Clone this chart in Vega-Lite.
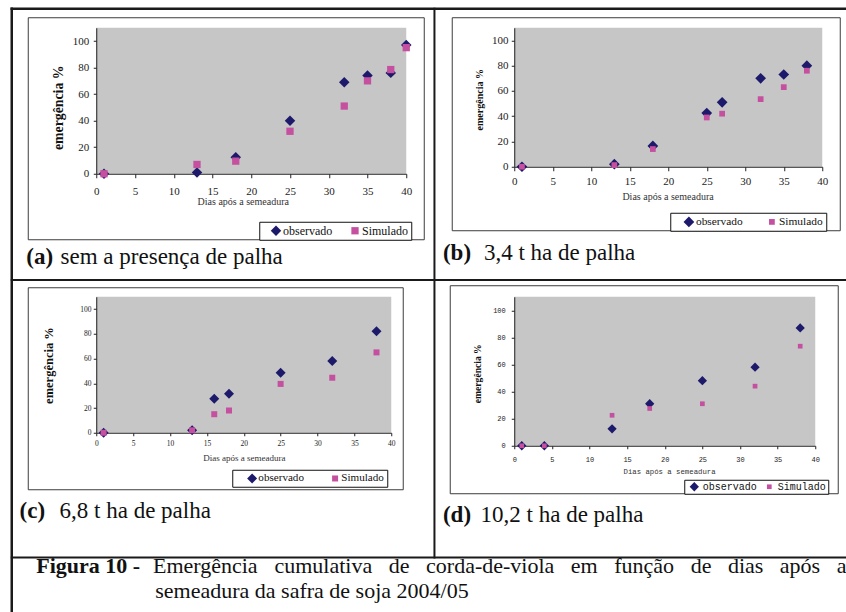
{
  "$schema": "https://vega.github.io/schema/vega-lite/v6.json",
  "background": "white",
  "padding": {"left": 9.25, "top": 6.75, "right": 0, "bottom": 0},
  "config": {
    "font": "Liberation Serif",
    "view": {"fill": "#c6c6c6", "stroke": null},
    "axis": {"grid": false, "labelFlush": false, "labelOverlap": false, "domainColor": "#222", "tickColor": "#222", "labelColor": "#222", "titleColor": "#111"}
  },
  "datasets": {
    "pontos": [
      {"painel": "a", "serie": "observado", "dia": 1, "emergencia": 0},
      {"painel": "a", "serie": "observado", "dia": 13, "emergencia": 1},
      {"painel": "a", "serie": "observado", "dia": 18, "emergencia": 12.5},
      {"painel": "a", "serie": "observado", "dia": 25, "emergencia": 40},
      {"painel": "a", "serie": "observado", "dia": 32, "emergencia": 69},
      {"painel": "a", "serie": "observado", "dia": 35, "emergencia": 74},
      {"painel": "a", "serie": "observado", "dia": 38, "emergencia": 76},
      {"painel": "a", "serie": "observado", "dia": 40, "emergencia": 97},
      {"painel": "a", "serie": "Simulado", "dia": 1, "emergencia": 0},
      {"painel": "a", "serie": "Simulado", "dia": 13, "emergencia": 7},
      {"painel": "a", "serie": "Simulado", "dia": 18, "emergencia": 9.5},
      {"painel": "a", "serie": "Simulado", "dia": 25, "emergencia": 32},
      {"painel": "a", "serie": "Simulado", "dia": 32, "emergencia": 51},
      {"painel": "a", "serie": "Simulado", "dia": 35, "emergencia": 70},
      {"painel": "a", "serie": "Simulado", "dia": 38, "emergencia": 78.5},
      {"painel": "a", "serie": "Simulado", "dia": 40, "emergencia": 95},
      {"painel": "b", "serie": "observado", "dia": 1, "emergencia": 0},
      {"painel": "b", "serie": "observado", "dia": 13, "emergencia": 2},
      {"painel": "b", "serie": "observado", "dia": 18, "emergencia": 16.5},
      {"painel": "b", "serie": "observado", "dia": 25, "emergencia": 42.5},
      {"painel": "b", "serie": "observado", "dia": 27, "emergencia": 51},
      {"painel": "b", "serie": "observado", "dia": 32, "emergencia": 70},
      {"painel": "b", "serie": "observado", "dia": 35, "emergencia": 73},
      {"painel": "b", "serie": "observado", "dia": 38, "emergencia": 80},
      {"painel": "b", "serie": "Simulado", "dia": 1, "emergencia": 0},
      {"painel": "b", "serie": "Simulado", "dia": 13, "emergencia": 1.3},
      {"painel": "b", "serie": "Simulado", "dia": 18, "emergencia": 14},
      {"painel": "b", "serie": "Simulado", "dia": 25, "emergencia": 39},
      {"painel": "b", "serie": "Simulado", "dia": 27, "emergencia": 42},
      {"painel": "b", "serie": "Simulado", "dia": 32, "emergencia": 53.5},
      {"painel": "b", "serie": "Simulado", "dia": 35, "emergencia": 63},
      {"painel": "b", "serie": "Simulado", "dia": 38, "emergencia": 76},
      {"painel": "c", "serie": "observado", "dia": 1, "emergencia": 0},
      {"painel": "c", "serie": "observado", "dia": 13, "emergencia": 2},
      {"painel": "c", "serie": "observado", "dia": 16, "emergencia": 27.5},
      {"painel": "c", "serie": "observado", "dia": 18, "emergencia": 31.5},
      {"painel": "c", "serie": "observado", "dia": 25, "emergencia": 48.5},
      {"painel": "c", "serie": "observado", "dia": 32, "emergencia": 58},
      {"painel": "c", "serie": "observado", "dia": 38, "emergencia": 82},
      {"painel": "c", "serie": "Simulado", "dia": 1, "emergencia": 0},
      {"painel": "c", "serie": "Simulado", "dia": 13, "emergencia": 2},
      {"painel": "c", "serie": "Simulado", "dia": 16, "emergencia": 15},
      {"painel": "c", "serie": "Simulado", "dia": 18, "emergencia": 18},
      {"painel": "c", "serie": "Simulado", "dia": 25, "emergencia": 39.5},
      {"painel": "c", "serie": "Simulado", "dia": 32, "emergencia": 44.5},
      {"painel": "c", "serie": "Simulado", "dia": 38, "emergencia": 65},
      {"painel": "d", "serie": "observado", "dia": 1, "emergencia": 0},
      {"painel": "d", "serie": "observado", "dia": 4, "emergencia": 0},
      {"painel": "d", "serie": "observado", "dia": 13, "emergencia": 12.5},
      {"painel": "d", "serie": "observado", "dia": 18, "emergencia": 31},
      {"painel": "d", "serie": "observado", "dia": 25, "emergencia": 48},
      {"painel": "d", "serie": "observado", "dia": 32, "emergencia": 58},
      {"painel": "d", "serie": "observado", "dia": 38, "emergencia": 87},
      {"painel": "d", "serie": "Simulado", "dia": 1, "emergencia": 0},
      {"painel": "d", "serie": "Simulado", "dia": 4, "emergencia": 0},
      {"painel": "d", "serie": "Simulado", "dia": 13, "emergencia": 22.5},
      {"painel": "d", "serie": "Simulado", "dia": 18, "emergencia": 27.5},
      {"painel": "d", "serie": "Simulado", "dia": 25, "emergencia": 31},
      {"painel": "d", "serie": "Simulado", "dia": 32, "emergencia": 44},
      {"painel": "d", "serie": "Simulado", "dia": 38, "emergencia": 73.5}
    ]
  },
  "columns": 2,
  "spacing": {"row": 123, "column": 108},
  "bounds": "flush",
  "align": "each",
  "resolve": {
    "scale": {"color": "independent", "shape": "independent", "size": "independent"},
    "legend": {"color": "independent", "shape": "independent", "size": "independent"}
  },
  "concat": [
    {
      "width": 310,
      "height": 146,
      "resolve": {"axis": {"x": "independent", "y": "independent"}},
      "layer": [
        {
          "data": {"name": "pontos"},
          "transform": [{"filter": "datum.painel == 'a'"}],
          "mark": {"type": "point", "filled": true, "opacity": 1},
          "encoding": {
            "x": {
              "field": "dia", "type": "quantitative",
              "scale": {"domain": [0, 40], "nice": false, "zero": false},
              "axis": {"orient": "bottom", "values": [0, 5, 10, 15, 20, 25, 30, 35, 40], "labelOverlap": false, "labelFlush": false, "title": "Dias após a semeadura", "titleX": 146.5, "titleY": 28, "titleAlign": "center", "titleBaseline": "middle", "titleFontSize": 10, "titleFontWeight": "normal", "titleColor": "#333", "labelFontSize": 11, "labelBaseline": "middle", "labelPadding": 13.7, "tickSize": 4}
            },
            "y": {
              "field": "emergencia", "type": "quantitative",
              "scale": {"domain": [0, 110], "nice": false, "zero": false},
              "axis": {"orient": "left", "values": [0, 20, 40, 60, 80, 100], "labelOverlap": false, "labelFlush": false, "title": "emergência %", "titleX": -38, "titleY": 79.5, "titleAlign": "center", "titleBaseline": "middle", "titleFontSize": 13.8, "titleFontWeight": "bold", "labelFontSize": 11, "labelPadding": 4.5, "tickSize": 3}
            },
            "color": {"field": "serie", "type": "nominal", "scale": {"domain": ["observado", "Simulado"], "range": ["#1d1a6b", "#c4509f"]},
              "legend": {"orient": "none", "legendX": 163, "legendY": 194, "direction": "horizontal", "title": null, "padding": 3, "labelFontSize": 12, "labelColor": "#111", "labelOffset": 1, "symbolOffset": 7.75, "columnPadding": 8, "strokeColor": "#111", "fillColor": "white", "symbolStrokeWidth": 0}},
            "shape": {"field": "serie", "type": "nominal", "scale": {"domain": ["observado", "Simulado"], "range": ["diamond", "square"]},
              "legend": {"orient": "none", "legendX": 163, "legendY": 194, "direction": "horizontal", "title": null, "padding": 3, "labelFontSize": 12, "labelColor": "#111", "labelOffset": 1, "symbolOffset": 7.75, "columnPadding": 8, "strokeColor": "#111", "fillColor": "white", "symbolStrokeWidth": 0}},
            "size": {"field": "serie", "type": "nominal", "scale": {"type": "ordinal", "domain": ["observado", "Simulado"], "range": [110, 53]},
              "legend": {"orient": "none", "legendX": 163, "legendY": 194, "direction": "horizontal", "title": null, "padding": 3, "labelFontSize": 12, "labelColor": "#111", "labelOffset": 1, "symbolOffset": 7.75, "columnPadding": 8, "strokeColor": "#111", "fillColor": "white", "symbolStrokeWidth": 0}}
          }
        },
        {
          "data": {"values": [{}]},
          "mark": {"type": "rule", "stroke": "#1a1a1a", "strokeWidth": 2.5, "strokeCap": "square"},
          "encoding": {
            "x": {"datum": -10.903, "type": "quantitative", "scale": {"domain": [0, 40], "nice": false, "zero": false}, "axis": null},
            "y": {"datum": 124.315, "type": "quantitative", "scale": {"domain": [0, 110], "nice": false, "zero": false}, "axis": null},
            "y2": {"datum": -329.247}
          }
        },
        {
          "data": {"values": [{}]},
          "mark": {"type": "rule", "stroke": "#1a1a1a", "strokeWidth": 2.5, "strokeCap": "square"},
          "encoding": {
            "x": {"datum": -10.903, "type": "quantitative", "scale": {"domain": [0, 40], "nice": false, "zero": false}, "axis": null},
            "x2": {"datum": 96.645},
            "y": {"datum": 124.315, "type": "quantitative", "scale": {"domain": [0, 110], "nice": false, "zero": false}, "axis": null}
          }
        },
        {
          "data": {"values": [{}]},
          "mark": {"type": "rule", "stroke": "#1a1a1a", "strokeWidth": 2, "strokeCap": "square"},
          "encoding": {
            "x": {"datum": -10.903, "type": "quantitative", "scale": {"domain": [0, 40], "nice": false, "zero": false}, "axis": null},
            "x2": {"datum": 96.645},
            "y": {"datum": -80.089, "type": "quantitative", "scale": {"domain": [0, 110], "nice": false, "zero": false}, "axis": null}
          }
        },
        {
          "data": {"values": [{}]},
          "mark": {"type": "rule", "stroke": "#1a1a1a", "strokeWidth": 2, "strokeCap": "square"},
          "encoding": {
            "x": {"datum": 43.639, "type": "quantitative", "scale": {"domain": [0, 40], "nice": false, "zero": false}, "axis": null},
            "y": {"datum": 124.315, "type": "quantitative", "scale": {"domain": [0, 110], "nice": false, "zero": false}, "axis": null},
            "y2": {"datum": -289.089}
          }
        },
        {
          "data": {"values": [{}]},
          "mark": {"type": "rule", "stroke": "#1a1a1a", "strokeWidth": 2, "strokeCap": "square"},
          "encoding": {
            "x": {"datum": -10.903, "type": "quantitative", "scale": {"domain": [0, 40], "nice": false, "zero": false}, "axis": null},
            "x2": {"datum": 96.645},
            "y": {"datum": -289.089, "type": "quantitative", "scale": {"domain": [0, 110], "nice": false, "zero": false}, "axis": null}
          }
        },
        {
          "data": {"values": [{}]},
          "mark": {"type": "rect", "fill": null, "stroke": "#3c3c3c", "strokeWidth": 1},
          "encoding": {
            "x": {"datum": -8.774, "type": "quantitative", "scale": {"domain": [0, 40], "nice": false, "zero": false}, "axis": null},
            "x2": {"datum": 42.323},
            "y": {"datum": 117.53, "type": "quantitative", "scale": {"domain": [0, 110], "nice": false, "zero": false}, "axis": null},
            "y2": {"datum": -49.73}
          }
        },
        {
          "data": {"values": [{}]},
          "mark": {"type": "text", "align": "left", "baseline": "alphabetic", "fontSize": 23, "fontWeight": "bold", "color": "#111"},
          "encoding": {
            "x": {"datum": -9.032, "type": "quantitative", "scale": {"domain": [0, 40], "nice": false, "zero": false}, "axis": null},
            "y": {"datum": -68.03, "type": "quantitative", "scale": {"domain": [0, 110], "nice": false, "zero": false}, "axis": null},
            "text": {"value": "(a)"}
          }
        },
        {
          "data": {"values": [{}]},
          "mark": {"type": "text", "align": "left", "baseline": "alphabetic", "fontSize": 23, "color": "#111"},
          "encoding": {
            "x": {"datum": -4.606, "type": "quantitative", "scale": {"domain": [0, 40], "nice": false, "zero": false}, "axis": null},
            "y": {"datum": -68.03, "type": "quantitative", "scale": {"domain": [0, 110], "nice": false, "zero": false}, "axis": null},
            "text": {"value": "sem a presença de palha"}
          }
        }
      ]
    },
    {
      "width": 308,
      "height": 139,
      "resolve": {"axis": {"x": "independent", "y": "independent"}},
      "layer": [
        {
          "data": {"name": "pontos"},
          "transform": [{"filter": "datum.painel == 'b'"}],
          "mark": {"type": "point", "filled": true, "opacity": 1},
          "encoding": {
            "x": {
              "field": "dia", "type": "quantitative",
              "scale": {"domain": [0, 40], "nice": false, "zero": false},
              "axis": {"orient": "bottom", "values": [0, 5, 10, 15, 20, 25, 30, 35, 40], "labelOverlap": false, "labelFlush": false, "title": "Dias após a semeadura", "titleX": 153.3, "titleY": 30, "titleAlign": "center", "titleBaseline": "middle", "titleFontSize": 10, "titleFontWeight": "normal", "titleColor": "#333", "labelFontSize": 11, "labelBaseline": "middle", "labelPadding": 11, "tickSize": 4}
            },
            "y": {
              "field": "emergencia", "type": "quantitative",
              "scale": {"domain": [0, 110], "nice": false, "zero": false},
              "axis": {"orient": "left", "values": [0, 20, 40, 60, 80, 100], "labelOverlap": false, "labelFlush": false, "title": "emergência %", "titleX": -35, "titleY": 71.5, "titleAlign": "center", "titleBaseline": "middle", "titleFontSize": 10, "titleFontWeight": "bold", "labelFontSize": 11, "labelPadding": 3.3, "tickSize": 3}
            },
            "color": {"field": "serie", "type": "nominal", "scale": {"domain": ["observado", "Simulado"], "range": ["#1d1a6b", "#c4509f"]},
              "legend": {"orient": "none", "legendX": 156, "legendY": 185, "direction": "horizontal", "title": null, "padding": 3, "labelFontSize": 11.4, "labelColor": "#111", "labelOffset": 1.35, "symbolOffset": 9.95, "columnPadding": 13, "strokeColor": "#111", "fillColor": "white", "symbolStrokeWidth": 0}},
            "shape": {"field": "serie", "type": "nominal", "scale": {"domain": ["observado", "Simulado"], "range": ["diamond", "square"]},
              "legend": {"orient": "none", "legendX": 156, "legendY": 185, "direction": "horizontal", "title": null, "padding": 3, "labelFontSize": 11.4, "labelColor": "#111", "labelOffset": 1.35, "symbolOffset": 9.95, "columnPadding": 13, "strokeColor": "#111", "fillColor": "white", "symbolStrokeWidth": 0}},
            "size": {"field": "serie", "type": "nominal", "scale": {"type": "ordinal", "domain": ["observado", "Simulado"], "range": [115, 33]},
              "legend": {"orient": "none", "legendX": 156, "legendY": 185, "direction": "horizontal", "title": null, "padding": 3, "labelFontSize": 11.4, "labelColor": "#111", "labelOffset": 1.35, "symbolOffset": 9.95, "columnPadding": 13, "strokeColor": "#111", "fillColor": "white", "symbolStrokeWidth": 0}}
          }
        },
        {
          "data": {"values": [{}]},
          "mark": {"type": "rect", "fill": null, "stroke": "#3c3c3c", "strokeWidth": 1},
          "encoding": {
            "x": {"datum": -8.052, "type": "quantitative", "scale": {"domain": [0, 40], "nice": false, "zero": false}, "axis": null},
            "x2": {"datum": 42.338},
            "y": {"datum": 117.914, "type": "quantitative", "scale": {"domain": [0, 110], "nice": false, "zero": false}, "axis": null},
            "y2": {"datum": -50.647}
          }
        },
        {
          "data": {"values": [{}]},
          "mark": {"type": "text", "align": "left", "baseline": "alphabetic", "fontSize": 23, "fontWeight": "bold", "color": "#111"},
          "encoding": {
            "x": {"datum": -9.26, "type": "quantitative", "scale": {"domain": [0, 40], "nice": false, "zero": false}, "axis": null},
            "y": {"datum": -73.597, "type": "quantitative", "scale": {"domain": [0, 110], "nice": false, "zero": false}, "axis": null},
            "text": {"value": "(b)"}
          }
        },
        {
          "data": {"values": [{}]},
          "mark": {"type": "text", "align": "left", "baseline": "alphabetic", "fontSize": 23, "color": "#111"},
          "encoding": {
            "x": {"datum": -3.935, "type": "quantitative", "scale": {"domain": [0, 40], "nice": false, "zero": false}, "axis": null},
            "y": {"datum": -73.597, "type": "quantitative", "scale": {"domain": [0, 110], "nice": false, "zero": false}, "axis": null},
            "text": {"value": "3,4 t ha de palha"}
          }
        }
      ]
    },
    {
      "width": 295,
      "height": 136,
      "resolve": {"axis": {"x": "independent", "y": "independent"}},
      "layer": [
        {
          "data": {"name": "pontos"},
          "transform": [{"filter": "datum.painel == 'c'"}],
          "mark": {"type": "point", "filled": true, "opacity": 1},
          "encoding": {
            "x": {
              "field": "dia", "type": "quantitative",
              "scale": {"domain": [0, 40], "nice": false, "zero": false},
              "axis": {"orient": "bottom", "values": [0, 5, 10, 15, 20, 25, 30, 35, 40], "labelOverlap": false, "labelFlush": false, "title": "Dias após a semeadura", "titleX": 147.7, "titleY": 24.3, "titleAlign": "center", "titleBaseline": "middle", "titleFontSize": 9, "titleFontWeight": "normal", "titleColor": "#333", "labelFontSize": 7.5, "labelBaseline": "middle", "labelPadding": 7.3, "tickSize": 3}
            },
            "y": {
              "field": "emergencia", "type": "quantitative",
              "scale": {"domain": [0, 110], "nice": false, "zero": false},
              "axis": {"orient": "left", "values": [0, 20, 40, 60, 80, 100], "labelOverlap": false, "labelFlush": false, "title": "emergência %", "titleX": -48, "titleY": 68.3, "titleAlign": "center", "titleBaseline": "middle", "titleFontSize": 12.5, "titleFontWeight": "bold", "labelFontSize": 7.5, "labelPadding": 2.3, "tickSize": 3}
            },
            "color": {"field": "serie", "type": "nominal", "scale": {"domain": ["observado", "Simulado"], "range": ["#1d1a6b", "#c4509f"]},
              "legend": {"orient": "none", "legendX": 136, "legendY": 173, "direction": "horizontal", "title": null, "padding": 3, "labelFontSize": 11.1, "labelColor": "#111", "labelOffset": 0.7, "symbolOffset": 11.3, "columnPadding": 14, "strokeColor": "#111", "fillColor": "white", "symbolStrokeWidth": 0}},
            "shape": {"field": "serie", "type": "nominal", "scale": {"domain": ["observado", "Simulado"], "range": ["diamond", "square"]},
              "legend": {"orient": "none", "legendX": 136, "legendY": 173, "direction": "horizontal", "title": null, "padding": 3, "labelFontSize": 11.1, "labelColor": "#111", "labelOffset": 0.7, "symbolOffset": 11.3, "columnPadding": 14, "strokeColor": "#111", "fillColor": "white", "symbolStrokeWidth": 0}},
            "size": {"field": "serie", "type": "nominal", "scale": {"type": "ordinal", "domain": ["observado", "Simulado"], "range": [100, 36]},
              "legend": {"orient": "none", "legendX": 136, "legendY": 173, "direction": "horizontal", "title": null, "padding": 3, "labelFontSize": 11.1, "labelColor": "#111", "labelOffset": 0.7, "symbolOffset": 11.3, "columnPadding": 14, "strokeColor": "#111", "fillColor": "white", "symbolStrokeWidth": 0}}
          }
        },
        {
          "data": {"values": [{}]},
          "mark": {"type": "rect", "fill": null, "stroke": "#3c3c3c", "strokeWidth": 1},
          "encoding": {
            "x": {"datum": -9.22, "type": "quantitative", "scale": {"domain": [0, 40], "nice": false, "zero": false}, "axis": null},
            "x2": {"datum": 41.627},
            "y": {"datum": 117.279, "type": "quantitative", "scale": {"domain": [0, 110], "nice": false, "zero": false}, "axis": null},
            "y2": {"datum": -46.103}
          }
        },
        {
          "data": {"values": [{}]},
          "mark": {"type": "text", "align": "left", "baseline": "alphabetic", "fontSize": 23, "fontWeight": "bold", "color": "#111"},
          "encoding": {
            "x": {"datum": -10.4, "type": "quantitative", "scale": {"domain": [0, 40], "nice": false, "zero": false}, "axis": null},
            "y": {"datum": -69.316, "type": "quantitative", "scale": {"domain": [0, 110], "nice": false, "zero": false}, "axis": null},
            "text": {"value": "(c)"}
          }
        },
        {
          "data": {"values": [{}]},
          "mark": {"type": "text", "align": "left", "baseline": "alphabetic", "fontSize": 23, "color": "#111"},
          "encoding": {
            "x": {"datum": -4.976, "type": "quantitative", "scale": {"domain": [0, 40], "nice": false, "zero": false}, "axis": null},
            "y": {"datum": -69.316, "type": "quantitative", "scale": {"domain": [0, 110], "nice": false, "zero": false}, "axis": null},
            "text": {"value": "6,8 t ha de palha"}
          }
        },
        {
          "data": {"values": [{}]},
          "mark": {"type": "text", "align": "left", "baseline": "alphabetic", "fontSize": 22, "fontWeight": "bold", "color": "#111"},
          "encoding": {
            "x": {"datum": -8.136, "type": "quantitative", "scale": {"domain": [0, 40], "nice": false, "zero": false}, "axis": null},
            "y": {"datum": -113.235, "type": "quantitative", "scale": {"domain": [0, 110], "nice": false, "zero": false}, "axis": null},
            "text": {"value": "Figura 10 -"}
          }
        },
        {
          "data": {"values": [{}]},
          "mark": {"type": "text", "align": "left", "baseline": "alphabetic", "fontSize": 22, "color": "#111"},
          "encoding": {
            "x": {"datum": 7.688, "type": "quantitative", "scale": {"domain": [0, 40], "nice": false, "zero": false}, "axis": null},
            "y": {"datum": -113.235, "type": "quantitative", "scale": {"domain": [0, 110], "nice": false, "zero": false}, "axis": null},
            "text": {"value": "Emergência"}
          }
        },
        {
          "data": {"values": [{}]},
          "mark": {"type": "text", "align": "left", "baseline": "alphabetic", "fontSize": 22, "color": "#111"},
          "encoding": {
            "x": {"datum": 24.163, "type": "quantitative", "scale": {"domain": [0, 40], "nice": false, "zero": false}, "axis": null},
            "y": {"datum": -113.235, "type": "quantitative", "scale": {"domain": [0, 110], "nice": false, "zero": false}, "axis": null},
            "text": {"value": "cumulativa"}
          }
        },
        {
          "data": {"values": [{}]},
          "mark": {"type": "text", "align": "left", "baseline": "alphabetic", "fontSize": 22, "color": "#111"},
          "encoding": {
            "x": {"datum": 39.661, "type": "quantitative", "scale": {"domain": [0, 40], "nice": false, "zero": false}, "axis": null},
            "y": {"datum": -113.235, "type": "quantitative", "scale": {"domain": [0, 110], "nice": false, "zero": false}, "axis": null},
            "text": {"value": "de"}
          }
        },
        {
          "data": {"values": [{}]},
          "mark": {"type": "text", "align": "left", "baseline": "alphabetic", "fontSize": 22, "color": "#111"},
          "encoding": {
            "x": {"datum": 44.719, "type": "quantitative", "scale": {"domain": [0, 40], "nice": false, "zero": false}, "axis": null},
            "y": {"datum": -113.235, "type": "quantitative", "scale": {"domain": [0, 110], "nice": false, "zero": false}, "axis": null},
            "text": {"value": "corda-de-viola"}
          }
        },
        {
          "data": {"values": [{}]},
          "mark": {"type": "text", "align": "left", "baseline": "alphabetic", "fontSize": 22, "color": "#111"},
          "encoding": {
            "x": {"datum": 64.353, "type": "quantitative", "scale": {"domain": [0, 40], "nice": false, "zero": false}, "axis": null},
            "y": {"datum": -113.235, "type": "quantitative", "scale": {"domain": [0, 110], "nice": false, "zero": false}, "axis": null},
            "text": {"value": "em"}
          }
        },
        {
          "data": {"values": [{}]},
          "mark": {"type": "text", "align": "left", "baseline": "alphabetic", "fontSize": 22, "color": "#111"},
          "encoding": {
            "x": {"datum": 70.237, "type": "quantitative", "scale": {"domain": [0, 40], "nice": false, "zero": false}, "axis": null},
            "y": {"datum": -113.235, "type": "quantitative", "scale": {"domain": [0, 110], "nice": false, "zero": false}, "axis": null},
            "text": {"value": "função"}
          }
        },
        {
          "data": {"values": [{}]},
          "mark": {"type": "text", "align": "left", "baseline": "alphabetic", "fontSize": 22, "color": "#111"},
          "encoding": {
            "x": {"datum": 80.597, "type": "quantitative", "scale": {"domain": [0, 40], "nice": false, "zero": false}, "axis": null},
            "y": {"datum": -113.235, "type": "quantitative", "scale": {"domain": [0, 110], "nice": false, "zero": false}, "axis": null},
            "text": {"value": "de"}
          }
        },
        {
          "data": {"values": [{}]},
          "mark": {"type": "text", "align": "left", "baseline": "alphabetic", "fontSize": 22, "color": "#111"},
          "encoding": {
            "x": {"datum": 85.654, "type": "quantitative", "scale": {"domain": [0, 40], "nice": false, "zero": false}, "axis": null},
            "y": {"datum": -113.235, "type": "quantitative", "scale": {"domain": [0, 110], "nice": false, "zero": false}, "axis": null},
            "text": {"value": "dias"}
          }
        },
        {
          "data": {"values": [{}]},
          "mark": {"type": "text", "align": "left", "baseline": "alphabetic", "fontSize": 22, "color": "#111"},
          "encoding": {
            "x": {"datum": 92.692, "type": "quantitative", "scale": {"domain": [0, 40], "nice": false, "zero": false}, "axis": null},
            "y": {"datum": -113.235, "type": "quantitative", "scale": {"domain": [0, 110], "nice": false, "zero": false}, "axis": null},
            "text": {"value": "após"}
          }
        },
        {
          "data": {"values": [{}]},
          "mark": {"type": "text", "align": "left", "baseline": "alphabetic", "fontSize": 22, "color": "#111"},
          "encoding": {
            "x": {"datum": 100.393, "type": "quantitative", "scale": {"domain": [0, 40], "nice": false, "zero": false}, "axis": null},
            "y": {"datum": -113.235, "type": "quantitative", "scale": {"domain": [0, 110], "nice": false, "zero": false}, "axis": null},
            "text": {"value": "a"}
          }
        },
        {
          "data": {"values": [{}]},
          "mark": {"type": "text", "align": "left", "baseline": "alphabetic", "fontSize": 22, "color": "#111"},
          "encoding": {
            "x": {"datum": 8.0, "type": "quantitative", "scale": {"domain": [0, 40], "nice": false, "zero": false}, "axis": null},
            "y": {"datum": -133.698, "type": "quantitative", "scale": {"domain": [0, 110], "nice": false, "zero": false}, "axis": null},
            "text": {"value": "semeadura da safra de soja 2004/05"}
          }
        }
      ]
    },
    {
      "width": 301,
      "height": 149,
      "resolve": {"axis": {"x": "independent", "y": "independent"}},
      "layer": [
        {
          "data": {"name": "pontos"},
          "transform": [{"filter": "datum.painel == 'd'"}],
          "mark": {"type": "point", "filled": true, "opacity": 1},
          "encoding": {
            "x": {
              "field": "dia", "type": "quantitative",
              "scale": {"domain": [0, 40], "nice": false, "zero": false},
              "axis": {"orient": "bottom", "values": [0, 5, 10, 15, 20, 25, 30, 35, 40], "labelOverlap": false, "labelFlush": false, "title": "Dias após a semeadura", "titleX": 154.8, "titleY": 25.7, "titleAlign": "center", "titleBaseline": "middle", "titleFont": "Liberation Mono", "titleFontSize": 7.3, "titleFontWeight": "normal", "titleColor": "#333", "labelFont": "Liberation Mono", "labelFontSize": 7, "labelBaseline": "middle", "labelPadding": 10.3, "tickSize": 3}
            },
            "y": {
              "field": "emergencia", "type": "quantitative",
              "scale": {"domain": [0, 110], "nice": false, "zero": false},
              "axis": {"orient": "left", "values": [0, 20, 40, 60, 80, 100], "labelOverlap": false, "labelFlush": false, "title": "emergência %", "titleX": -36.3, "titleY": 76.5, "titleAlign": "center", "titleBaseline": "middle", "titleFontSize": 9.6, "titleFontWeight": "bold", "labelFont": "Liberation Mono", "labelFontSize": 7, "labelPadding": 6, "tickSize": 3}
            },
            "color": {"field": "serie", "type": "nominal", "scale": {"domain": ["observado", "Simulado"], "range": ["#1d1a6b", "#c4509f"]},
              "legend": {"orient": "none", "legendX": 170, "legendY": 183, "direction": "horizontal", "title": null, "padding": 2, "labelFont": "Liberation Mono", "labelFontSize": 10, "labelColor": "#111", "labelOffset": 3.35, "symbolOffset": 3.05, "columnPadding": 4, "strokeColor": "#111", "fillColor": "white", "symbolStrokeWidth": 0}},
            "shape": {"field": "serie", "type": "nominal", "scale": {"domain": ["observado", "Simulado"], "range": ["diamond", "square"]},
              "legend": {"orient": "none", "legendX": 170, "legendY": 183, "direction": "horizontal", "title": null, "padding": 2, "labelFont": "Liberation Mono", "labelFontSize": 10, "labelColor": "#111", "labelOffset": 3.35, "symbolOffset": 3.05, "columnPadding": 4, "strokeColor": "#111", "fillColor": "white", "symbolStrokeWidth": 0}},
            "size": {"field": "serie", "type": "nominal", "scale": {"type": "ordinal", "domain": ["observado", "Simulado"], "range": [86, 22]},
              "legend": {"orient": "none", "legendX": 170, "legendY": 183, "direction": "horizontal", "title": null, "padding": 2, "labelFont": "Liberation Mono", "labelFontSize": 10, "labelColor": "#111", "labelOffset": 3.35, "symbolOffset": 3.05, "columnPadding": 4, "strokeColor": "#111", "fillColor": "white", "symbolStrokeWidth": 0}}
          }
        },
        {
          "data": {"values": [{}]},
          "mark": {"type": "rect", "fill": null, "stroke": "#3c3c3c", "strokeWidth": 1},
          "encoding": {
            "x": {"datum": -8.505, "type": "quantitative", "scale": {"domain": [0, 40], "nice": false, "zero": false}, "axis": null},
            "x2": {"datum": 43.056},
            "y": {"datum": 118.121, "type": "quantitative", "scale": {"domain": [0, 110], "nice": false, "zero": false}, "axis": null},
            "y2": {"datum": -35.436}
          }
        },
        {
          "data": {"values": [{}]},
          "mark": {"type": "text", "align": "left", "baseline": "alphabetic", "fontSize": 23, "fontWeight": "bold", "color": "#111"},
          "encoding": {
            "x": {"datum": -9.475, "type": "quantitative", "scale": {"domain": [0, 40], "nice": false, "zero": false}, "axis": null},
            "y": {"datum": -56.107, "type": "quantitative", "scale": {"domain": [0, 110], "nice": false, "zero": false}, "axis": null},
            "text": {"value": "(d)"}
          }
        },
        {
          "data": {"values": [{}]},
          "mark": {"type": "text", "align": "left", "baseline": "alphabetic", "fontSize": 23, "color": "#111"},
          "encoding": {
            "x": {"datum": -4.478, "type": "quantitative", "scale": {"domain": [0, 40], "nice": false, "zero": false}, "axis": null},
            "y": {"datum": -56.107, "type": "quantitative", "scale": {"domain": [0, 110], "nice": false, "zero": false}, "axis": null},
            "text": {"value": "10,2 t ha de  palha"}
          }
        }
      ]
    }
  ]
}
